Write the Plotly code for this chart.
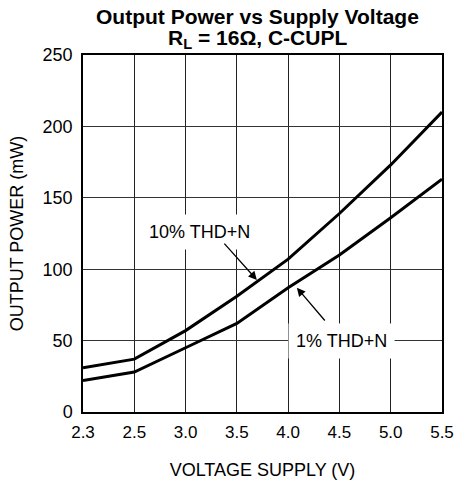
import plotly.graph_objects as go

voltage_labels = ["2.3", "2.5", "3.0", "3.5", "4.0", "4.5", "5.0", "5.5"]
power_10pct = [31, 37, 57, 81, 107, 139, 173, 210]
power_1pct = [22, 28, 45, 62, 87, 110, 136, 163]
y_ticks = [0, 50, 100, 150, 200, 250]

xi = list(range(len(voltage_labels)))
FONT = "Liberation Sans, Arial, sans-serif"

fig = go.Figure()
fig.add_trace(go.Scatter(x=xi, y=power_10pct, mode="lines",
                         line=dict(color="black", width=3), showlegend=False))
fig.add_trace(go.Scatter(x=xi, y=power_1pct, mode="lines",
                         line=dict(color="black", width=3), showlegend=False))

ann_font = dict(family=FONT, size=18, color="black")
# label boxes
fig.add_annotation(x=2.28, y=126, text="10% THD+N", showarrow=False,
                   bgcolor="white", borderpad=7, font=ann_font)
fig.add_annotation(x=5.05, y=50, text="1% THD+N", showarrow=False,
                   bgcolor="white", borderpad=7, font=ann_font)
# arrows
fig.add_annotation(x=3.39, y=92.5, ax=2.73, ay=119, xref="x", yref="y",
                   axref="x", ayref="y", text="", showarrow=True,
                   arrowhead=2, arrowsize=1.3, arrowwidth=1.3, arrowcolor="black")
fig.add_annotation(x=4.17, y=87, ax=4.74, ay=63, xref="x", yref="y",
                   axref="x", ayref="y", text="", showarrow=True,
                   arrowhead=2, arrowsize=1.3, arrowwidth=1.3, arrowcolor="black")

# title (two tightly spaced lines)
title_font = dict(family=FONT, size=21, color="black")
fig.add_annotation(x=0.485, y=1.109, xref="paper", yref="paper", xanchor="center",
                   yanchor="middle", showarrow=False, font=title_font,
                   text="<b>Output Power vs Supply Voltage</b>")
fig.add_annotation(x=0.485, y=1.046, xref="paper", yref="paper", xanchor="center",
                   yanchor="middle", showarrow=False, font=title_font,
                   text="<b>R<sub>L</sub> = 16Ω, C-CUPL</b>")

fig.update_layout(
    width=454, height=483,
    margin=dict(l=83, r=12, t=55, b=71),
    paper_bgcolor="white", plot_bgcolor="white",
    font=dict(family=FONT, size=18, color="black"),
    xaxis=dict(range=[0, 7], tickmode="array", tickvals=xi, ticktext=voltage_labels,
               showgrid=True, gridcolor="#222", gridwidth=1,
               showline=True, linecolor="black", linewidth=1.5, mirror=True,
               ticks="", zeroline=False, tickfont=dict(size=17), automargin=False,
               ticklabelstandoff=4,
               title=dict(text="VOLTAGE SUPPLY (V)", font=dict(size=18), standoff=22)),
    yaxis=dict(range=[0, 250], tickmode="array", tickvals=y_ticks,
               showgrid=True, gridcolor="#333", gridwidth=1,
               showline=True, linecolor="black", linewidth=1.5, mirror=True,
               ticks="", zeroline=False, tickfont=dict(size=18), automargin=False,
               ticklabelstandoff=5,
               title=dict(text="OUTPUT POWER (mW)", font=dict(size=18), standoff=14)),
)

fig.write_html(
    "out.html",
    config={"displayModeBar": False},
    post_script="document.documentElement.style.margin='0';"
                "document.body.style.margin='0';"
                "document.body.style.overflow='hidden';",
)
